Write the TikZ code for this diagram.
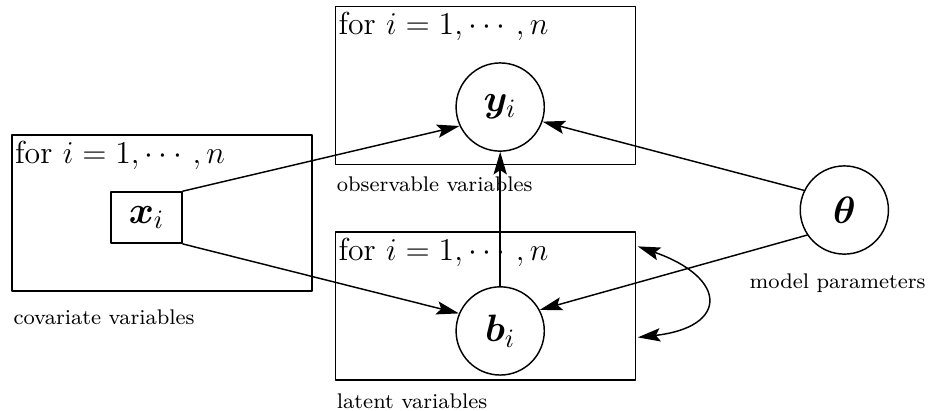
\documentclass[tikz,border=0pt]{standalone}
\usepackage{amsmath,amssymb}
\usepackage{bm}
\usetikzlibrary{arrows.meta,positioning,calc}

\begin{document}
\begin{tikzpicture}[line cap=round, line join=round, line width=0.55pt,
    >={Stealth[length=8.5pt,width=5pt,inset=1.6pt]},
    plate/.style={draw, rectangle, inner sep=0pt, minimum width=3.98cm},
    rv/.style={draw, circle, minimum size=1.17cm, inner sep=0pt, font=\Large},
    cv/.style={draw, rectangle, minimum width=0.94cm, minimum height=0.68cm,
               inner sep=0pt, font=\Large},
    tag/.style={font=\footnotesize, inner sep=0pt}]
  \useasboundingbox (0,0) rectangle (12.31,5.44);
  % plates
  \node[plate, minimum height=2.09cm] (obs) at (6.44,4.305) {};
  \node[plate, minimum height=2.07cm] (cov) at (2.15,2.615) {};
  \node[plate, minimum height=1.96cm] (lat) at (6.44,1.38) {};
  \foreach \p in {obs,cov,lat} {%
    \node[anchor=north west, font=\large, inner xsep=1.2pt, inner ysep=2.2pt]
      at (\p.north west) {for $i=1,\cdots,n$};
  }
  % variables
  \node[rv] (yi) at (6.635,4.02) {$\bm{y}_i$};
  \node[rv] (bi) at (6.635,1.05) {$\bm{b}_i$};
  \node[rv] (theta) at (11.2,2.654) {$\bm{\theta}$};
  \node[cv] (xi) at (1.944,2.554) {$\bm{x}_i$};
  % plate labels
  \node[tag, below right=0.15cm and 0.02cm of obs.south west] (obslab) {observable variables};
  \node[tag, below right=0.23cm and 0.02cm of cov.south west] (covlab) {covariate variables};
  \node[tag, below right=0.16cm and 0.02cm of lat.south west] (latlab) {latent variables};
  \node[tag, below=0.24cm of theta, xshift=-0.09cm] (thetalab) {model parameters};
  % edges
  \draw[->] (xi.north east) -- (yi.205);
  \draw[->] (xi.south east) -- (bi.157);
  \draw[->] (theta.154) -- (yi.-19);
  \draw[->] (theta.214) -- (bi.28);
  \draw[->] (bi.north) -- (yi.south);
  \coordinate (cu) at ($(lat.north east)!0.10!(lat.south east)+(0.02,0)$);
  \coordinate (cl) at ($(lat.north east)!0.71!(lat.south east)+(0.02,0)$);
  \draw[<->] (cu) .. controls (9.66,1.75) and (9.66,1.1) .. (cl);
\end{tikzpicture}
\end{document}
